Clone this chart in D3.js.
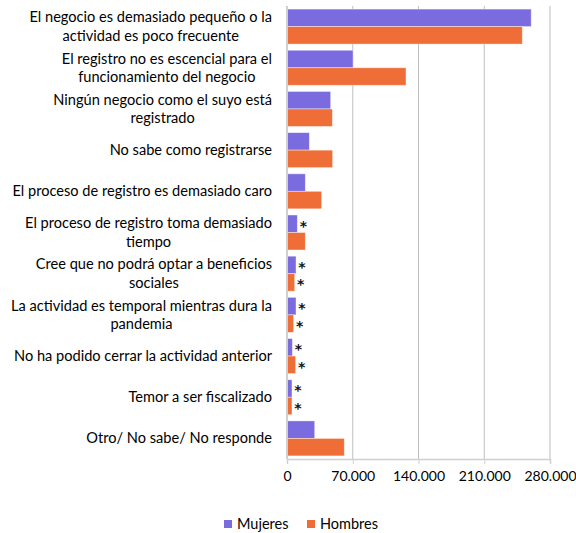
<!DOCTYPE html>
<html><head><meta charset="utf-8">
<script src="https://cdn.jsdelivr.net/npm/d3@7"></script>
<style>body{margin:0;background:#fff;} svg{display:block;}</style>
</head><body>
<svg id="c" width="576" height="533"></svg>
<script>
const categories = [
  ["El negocio es demasiado pequeño o la", "actividad es poco frecuente"],
  ["El registro no es escencial para el", "funcionamiento del negocio"],
  ["Ningún negocio como el suyo está", "registrado"],
  ["No sabe como registrarse"],
  ["El proceso de registro es demasiado caro"],
  ["El proceso de registro toma demasiado", "tiempo"],
  ["Cree que no podrá optar a beneficios", "sociales"],
  ["La actividad es temporal mientras dura la", "pandemia"],
  ["No ha podido cerrar la actividad anterior"],
  ["Temor a ser fiscalizado"],
  ["Otro/ No sabe/ No responde"]
];
const seriesNames = ["Mujeres", "Hombres"];
const mujeres = [260000, 70300, 46500, 23800, 19500, 11000, 9600, 9600, 5700, 5300, 29500];
const hombres = [250500, 126700, 48300, 48600, 36900, 19500, 8200, 7100, 9200, 5300, 61000];
const mujeresFlag = [false, false, false, false, false, true, true, true, true, true, false];
const hombresFlag = [false, false, false, false, false, false, true, true, true, true, false];
const tickValues = [0, 70000, 140000, 210000, 280000];
const tickLabels = ["0", "70.000", "140.000", "210.000", "280.000"];
const colors = ["#7A6CDE", "#EF6E38"];

const FONT = "Lato, 'Open Sans', sans-serif";
const svg = d3.select("#c");
const mLeft = 287, mRight = 550, mTop = 6, mBottom = 459;

const x = d3.scaleLinear().domain([0, 280000]).range([mLeft, mRight]);
const y = d3.scaleBand().domain(d3.range(categories.length)).range([mTop, mBottom]).paddingInner(0.15).paddingOuter(0.075);
const yi = d3.scaleBand().domain([0, 1]).range([0, y.bandwidth()]);
const yc = d3.scaleBand().domain(d3.range(categories.length)).range([mTop, mBottom]);

// gridlines
svg.append("g").selectAll("line").data(tickValues.slice(1)).join("line")
  .attr("x1", d => x(d)).attr("x2", d => x(d))
  .attr("y1", mTop).attr("y2", mBottom)
  .attr("stroke", d => d === 280000 ? "#d4d4d4" : "#bfbfbf")
  .attr("stroke-width", d => d === 280000 ? 1.5 : 1);

// bars
const series = [mujeres, hombres];
const flags = [mujeresFlag, hombresFlag];
series.forEach((vals, s) => {
  svg.append("g").selectAll("rect").data(vals).join("rect")
    .attr("x", x(0))
    .attr("y", (d, i) => y(i) + yi(s))
    .attr("width", d => x(d) - x(0))
    .attr("height", yi.bandwidth())
    .attr("fill", colors[s])
    .attr("stroke", "rgba(255,255,255,0.5)")
    .attr("stroke-width", 0.8);
  svg.append("g").selectAll("text").data(vals.map((v, i) => ({v, i})).filter(d => flags[s][d.i])).join("text")
    .attr("x", d => x(d.v) + 6)
    .attr("y", d => y(d.i) + yi(s) + yi.bandwidth() / 2 + 7)
    .attr("text-anchor", "middle")
    .attr("font-family", "'DejaVu Sans', sans-serif").attr("font-size", 14).attr("font-weight", "bold")
    .attr("fill", "#111")
    .text("*");
});

// axes lines
const xAxis = d3.axisBottom(x).tickValues(tickValues).tickFormat((d, i) => tickLabels[i]).tickSize(5).tickPadding(7);
const gx = svg.append("g").attr("transform", `translate(0,${mBottom})`).call(xAxis);
gx.select(".domain").attr("stroke", "#d0d0d0").attr("stroke-width", 1.5);
gx.selectAll(".tick line").attr("stroke", "#d0d0d0");
gx.selectAll(".tick text").attr("font-family", FONT).attr("font-size", 14).attr("fill", "#000");

svg.append("line").attr("x1", mLeft).attr("x2", mLeft).attr("y1", mTop).attr("y2", mBottom)
  .attr("stroke", "#d0d0d0").attr("stroke-width", 2);

// category labels
const labelRight = 272;
const lg = svg.append("g").attr("font-family", FONT).attr("font-size", 14.6).attr("fill", "#000");
categories.forEach((lines, i) => {
  const t = lg.append("text").attr("text-anchor", "middle");
  const tmp = [];
  lines.forEach((ln, k) => {
    const ts = t.append("tspan").text(ln);
    tmp.push(ts);
  });
  const w = d3.max(tmp, ts => ts.node().getComputedTextLength());
  const cx = labelRight - w / 2;
  const cy = yc(i) + yc.bandwidth() / 2;
  const n = lines.length;
  tmp.forEach((ts, k) => {
    ts.attr("x", cx).attr("y", cy + (k - (n - 1) / 2) * 18.5 + 5);
  });
});

// legend
const leg = svg.append("g").attr("font-family", FONT).attr("font-size", 14.5);
const legX = [224, 307];
seriesNames.forEach((nm, s) => {
  leg.append("rect").attr("x", legX[s]).attr("y", 520).attr("width", 8).attr("height", 8).attr("fill", colors[s]);
  leg.append("text").attr("x", legX[s] + 13).attr("y", 529).text(nm).attr("fill", "#000");
});
</script>
</body></html>
